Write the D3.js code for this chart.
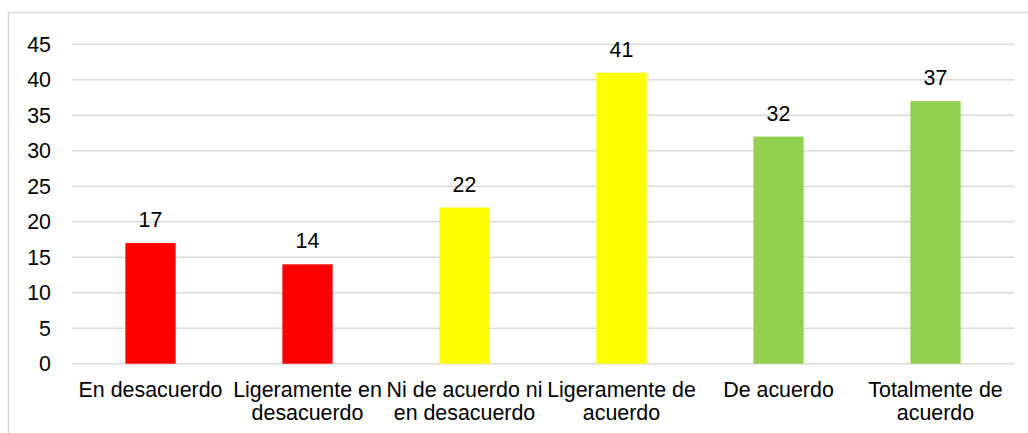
<!DOCTYPE html>
<html><head><meta charset="utf-8">
<script src="https://cdn.jsdelivr.net/npm/d3@7"></script>
<style>body{margin:0;background:#fff;}svg{display:block;font-family:"Liberation Sans",Arial,sans-serif;}</style>
</head><body>
<svg id="chart" width="1028" height="433"></svg>
<script>
const categories = [["En desacuerdo"],["Ligeramente en","desacuerdo"],["Ni de acuerdo ni","en desacuerdo"],["Ligeramente de","acuerdo"],["De acuerdo"],["Totalmente de","acuerdo"]];
const values = [17,14,22,41,32,37];
const colors = ["#FF0000","#FF0000","#FFFF00","#FFFF00","#92D050","#92D050"];
const yTicks = [0,5,10,15,20,25,30,35,40,45];

(function(){
const svg = d3.select("#chart");
const fs = 21.4;
svg.append("rect").attr("x",8.5).attr("y",12.5).attr("width",1040).attr("height",440)
  .attr("fill","#fff").attr("stroke","#d9d9d9").attr("stroke-width",1.5);

const pLeft=72, pRight=1014, pTop=44.3, pBottom=363.7;
const x = d3.scaleBand().domain(d3.range(categories.length)).range([pLeft,pRight]).paddingInner(0.68).paddingOuter(0.34);
const y = d3.scaleLinear().domain([0,45]).range([pBottom,pTop]);

svg.append("g").selectAll("line").data(yTicks).join("line")
  .attr("x1",pLeft).attr("x2",pRight).attr("y1",d=>y(d)).attr("y2",d=>y(d))
  .attr("stroke","#d9d9d9").attr("stroke-width",1.5);

const yAxis = d3.axisLeft(y).tickValues(yTicks).tickSize(0).tickPadding(0);
const gy = svg.append("g").attr("transform",`translate(51,0)`).call(yAxis);
gy.select(".domain").remove();
gy.selectAll("text").attr("font-size",fs).attr("fill","#000").attr("font-family","Liberation Sans, Arial, sans-serif");

svg.append("g").selectAll("rect").data(values).join("rect")
  .attr("x",(d,i)=>x(i)).attr("width",x.bandwidth())
  .attr("y",d=>y(d)).attr("height",d=>y(0)-y(d)).attr("fill",(d,i)=>colors[i]);

svg.append("g").selectAll("text").data(values).join("text")
  .attr("x",(d,i)=>x(i)+x.bandwidth()/2).attr("y",d=>y(d)-16)
  .attr("text-anchor","middle").attr("font-size",fs).attr("fill","#000").text(d=>d);

const xl = svg.append("g").selectAll("text").data(categories).join("text")
  .attr("text-anchor","middle").attr("font-size",fs).attr("fill","#000");
xl.each(function(lines,i){
  const t=d3.select(this);
  lines.forEach((l,j)=>t.append("tspan").attr("x",x(i)+x.bandwidth()/2).attr("y",397+j*23).text(l));
});
})();
</script>
</body></html>
